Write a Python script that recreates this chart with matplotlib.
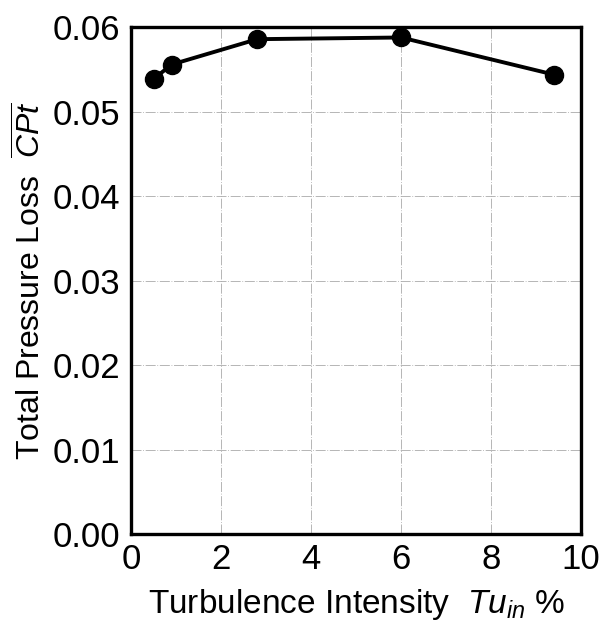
import numpy as np
import matplotlib
matplotlib.use("Agg")
import matplotlib.pyplot as plt

plt.rcParams['font.family'] = ['Liberation Sans', 'DejaVu Sans']
plt.rcParams['mathtext.fontset'] = 'custom'
plt.rcParams['mathtext.rm'] = 'Liberation Sans'
plt.rcParams['mathtext.it'] = 'Liberation Sans:italic'

FONTSIZE = 24
FONTSIZE_TICK = 25

# Data
tu_in = [0.5, 0.9, 2.8, 6.0, 9.4]
cpt = [0.0539, 0.0556, 0.0586, 0.0588, 0.0544]
x_ticks = [0, 2, 4, 6, 8, 10]
y_ticks = [0.00, 0.01, 0.02, 0.03, 0.04, 0.05, 0.06]
y_ticklabels = ["0.00", "0.01", "0.02", "0.03", "0.04", "0.05", "0.06"]

fig = plt.figure(figsize=(6.13, 6.36), dpi=100)
ax = fig.add_axes([0.214, 0.160, 0.734, 0.797])

ax.plot(tu_in, cpt, color='black', lw=2.8, marker='o', ms=13,
        zorder=3, clip_on=False)

ax.set_xlim(0, 10)
ax.set_ylim(0, 0.06)
ax.set_xticks(x_ticks)
ax.set_yticks(y_ticks)
ax.set_yticklabels(y_ticklabels)
ax.tick_params(length=0, labelsize=FONTSIZE_TICK)
ax.tick_params(axis='x', pad=6)
ax.tick_params(axis='y', pad=8)

ax.grid(True, color='#aaaaaa', lw=0.6, ls=(0, (12, 2, 1, 2)))
for s in ax.spines.values():
    s.set_linewidth(2.4)

ax.set_xlabel(r"Turbulence Intensity  $Tu_{in}$ %", fontsize=FONTSIZE, labelpad=8)
ax.set_ylabel(r"Total Pressure Loss  $\overline{CPt}$", fontsize=FONTSIZE - 1, labelpad=3)

plt.savefig("out.png", dpi=100)
plt.close()
